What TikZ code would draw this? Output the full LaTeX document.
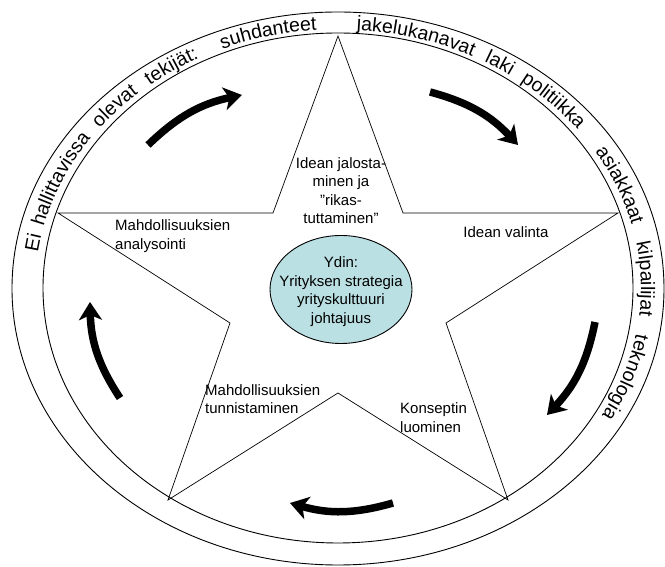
\documentclass[tikz,border=0pt]{standalone}
\usepackage{fontspec}
\setmainfont{Liberation Sans}
\usetikzlibrary{arrows.meta,decorations.text,shapes.geometric,calc}
\definecolor{corefill}{HTML}{BBE0E3}
\newcommand\ringfont{\fontsize{19.5}{23}\selectfont}
\newcommand\ringword[2]{%
  \path[decorate, decoration={text along path, text align=center, text={|\ringfont|#2}}]
    ($(338,279)+(#1+25:303pt and 258.5pt)$)
    arc[start angle=#1+25, end angle=#1-25, x radius=303pt, y radius=258.5pt];}
\begin{document}
\begin{tikzpicture}[x=1pt,y=1pt,
  lbl/.style={font=\fontsize{15}{18.5}\selectfont, inner sep=0pt},
  ring/.style={draw, line width=0.9pt, ellipse, inner sep=0pt},
  starline/.style={line width=0.7pt, line join=miter},
  cyc/.style={line width=7.5pt, -{Stealth[length=18pt,width=23pt,inset=5pt]}, bend left=16},
]
\useasboundingbox (0,0) rectangle (665,567);
% rings
\node[ring, minimum width=652pt, minimum height=553pt] (outer) at (338,278.5) {};
\node[ring, minimum width=590pt, minimum height=510pt] (inner) at (338,279) {};
% star
\coordinate (s1) at (338,531);
\coordinate (s2) at (403,354);
\coordinate (s3) at (618,354);
\coordinate (s4) at (446,244);
\coordinate (s5) at (508,67);
\coordinate (s6) at (338,174);
\coordinate (s7) at (168,67);
\coordinate (s8) at (230,244);
\coordinate (s9) at (58,354);
\coordinate (s10) at (273,354);
\draw[starline] (s1) -- (s2) -- (s3) -- (s4) -- (s5) -- (s6) -- (s7) -- (s8) -- (s9) -- (s10) -- cycle;
% core
\node[draw, ellipse, fill=corefill, line width=0.9pt, minimum width=142pt, minimum height=108pt, inner sep=0pt] (core) at (341,277.5) {};
\node[lbl, align=center] (coretext) at (341,275.5) {Ydin:\\Yrityksen strategia\\yrityskulttuuri\\johtajuus};
% labels
\node[lbl, align=center] (jalostus) at (341,376.5) {Idean jalosta-\\minen ja\\”rikas-\\tuttaminen”};
\node[lbl, align=left, anchor=west] (analyysi) at (115,331) {Mahdollisuuksien\\analysointi};
\node[lbl] (valinta) at (506,335) {Idean valinta};
\node[lbl, align=left, anchor=west] (tunnistus) at (205,168) {Mahdollisuuksien\\tunnistaminen};
\node[lbl, align=left, anchor=west] (konsepti) at (400,149.5) {Konseptin\\luominen};
% cycle arrows
\coordinate (a1s) at (148,422); \coordinate (a1e) at (242,472);
\coordinate (a2s) at (430,475); \coordinate (a2e) at (518,422);
\coordinate (a3s) at (595,245); \coordinate (a3e) at (547,152);
\coordinate (a4s) at (393,64);  \coordinate (a4e) at (290,64);
\coordinate (a5s) at (120,169); \coordinate (a5e) at (90,265);
\draw[cyc] (a1s) to (a1e);
\draw[cyc] (a2s) to (a2e);
\draw[cyc] (a3s) to (a3e);
\draw[cyc] (a4s) to (a4e);
\draw[cyc] (a5s) to (a5e);
% ring text
\ringword{170.5}{Ei}
\ringword{156}{hallittavissa}
\ringword{137.3}{olevat}
\ringword{123.5}{tekijät:}
\ringword{103.5}{suhdanteet}
\ringword{74.8}{jakelukanavat}
\ringword{57.6}{laki}
\ringword{44.6}{politiikka}
\ringword{22.5}{asiakkaat}
\ringword{2}{kilpailijat}
\ringword{-19.4}{teknologia}
\end{tikzpicture}
\end{document}
